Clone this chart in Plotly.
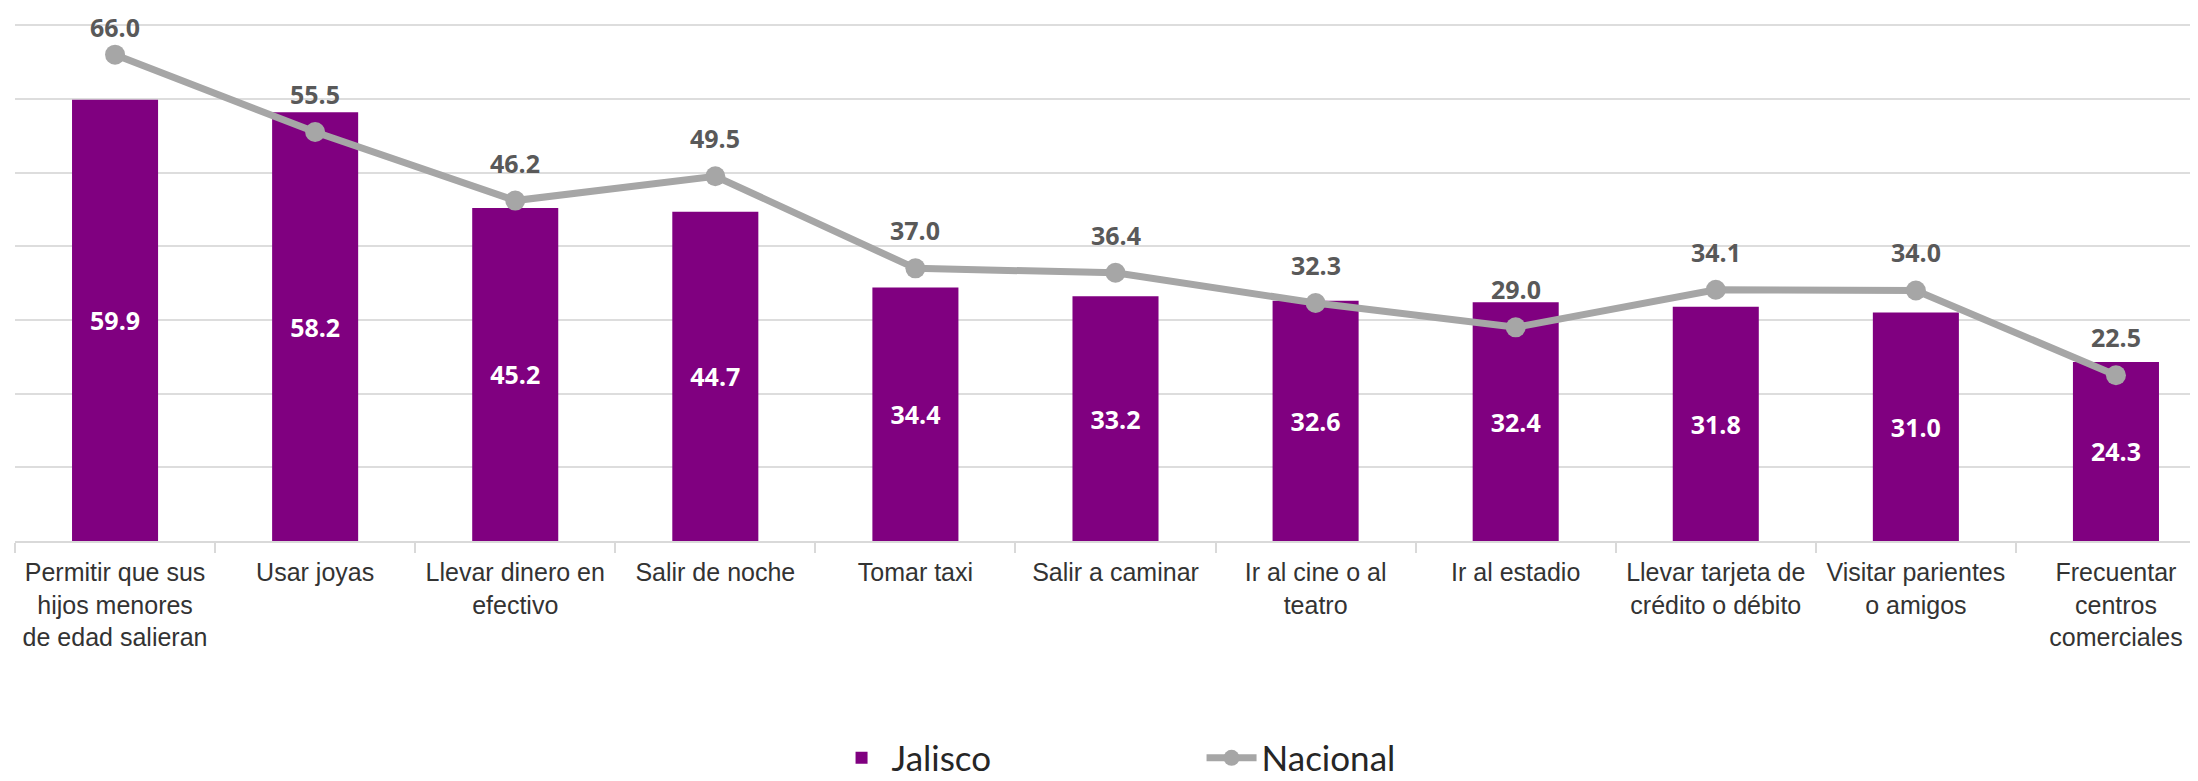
import plotly.graph_objects as go

categorias = [
    "Permitir que sus hijos menores de edad salieran",
    "Usar joyas",
    "Llevar dinero en efectivo",
    "Salir de noche",
    "Tomar taxi",
    "Salir a caminar",
    "Ir al cine o al teatro",
    "Ir al estadio",
    "Llevar tarjeta de crédito o débito",
    "Visitar parientes o amigos",
    "Frecuentar centros comerciales",
]
etiquetas = [
    "Permitir que sus<br>hijos menores<br>de edad salieran",
    "Usar joyas",
    "Llevar dinero en<br>efectivo",
    "Salir de noche",
    "Tomar taxi",
    "Salir a caminar",
    "Ir al cine o al<br>teatro",
    "Ir al estadio",
    "Llevar tarjeta de<br>crédito o débito",
    "Visitar parientes<br>o amigos",
    "Frecuentar<br>centros<br>comerciales",
]
jalisco = [59.9, 58.2, 45.2, 44.7, 34.4, 33.2, 32.6, 32.4, 31.8, 31.0, 24.3]
nacional = [66.0, 55.5, 46.2, 49.5, 37.0, 36.4, 32.3, 29.0, 34.1, 34.0, 22.5]

fig = go.Figure()
fig.add_trace(go.Bar(
    x=categorias, y=jalisco,
    name='Jalisco',
    marker=dict(color='#800080', line=dict(width=0)),
    text=[f"{v:.1f}" for v in jalisco],
    textposition='inside',
    insidetextanchor='middle',
    textangle=0,
    constraintext='none',
    insidetextfont=dict(family='Open Sans', size=25, color='white', weight='bold'),
))
fig.add_trace(go.Scatter(
    x=categorias, y=nacional,
    name='Nacional',
    mode='lines+markers',
    line=dict(color='#A6A6A6', width=7),
    marker=dict(color='#A6A6A6', size=20),
    cliponaxis=False,
))

# etiquetas de la serie nacional, algo por encima de cada punto
# (la más alta se acerca al punto para no salirse por arriba)
for cat, val in zip(categorias, nacional):
    fig.add_annotation(
        x=cat, y=val, text=f"{val:.1f}",
        showarrow=False, yshift=28 if val > 62 else 38,
        font=dict(family='Open Sans', size=25, color='#595959', weight='bold'),
    )

# la página añade 8 px de margen, por eso 2190x773
fig.update_layout(
    width=2190, height=773,
    margin=dict(l=7, r=0, t=15, b=240, autoexpand=False),
    paper_bgcolor='white',
    plot_bgcolor='white',
    bargap=0.57,
    showlegend=True,
    legend=dict(
        orientation='h',
        xref='container', yref='paper',
        x=0.545, y=-0.419, xanchor='center', yanchor='middle',
        font=dict(family='Lato', size=35, color='#262626'),
        entrywidth=305, entrywidthmode='pixels',
        itemwidth=50,
        traceorder='normal',
        tracegroupgap=0,
    ),
    xaxis=dict(
        type='category',
        automargin=False,
        range=[-0.5, 10.41],
        tickmode='array',
        tickvals=categorias,
        ticktext=etiquetas,
        tickson='boundaries',
        ticks='outside',
        ticklen=10,
        tickcolor='#D9D9D9',
        tickwidth=2,
        ticklabelstandoff=8,
        showline=True,
        linecolor='#D9D9D9',
        linewidth=2,
        showgrid=False,
        tickfont=dict(family='Liberation Sans, Arial, sans-serif', size=25, color='#333333'),
    ),
    yaxis=dict(
        automargin=False,
        range=[0, 70.3],
        tickmode='array',
        tickvals=[10, 20, 30, 40, 50, 60, 70],
        showticklabels=False,
        showgrid=True,
        gridcolor='#DDDDDD',
        gridwidth=2,
        zeroline=False,
        showline=False,
    ),
)

fig.write_html("out.html")
